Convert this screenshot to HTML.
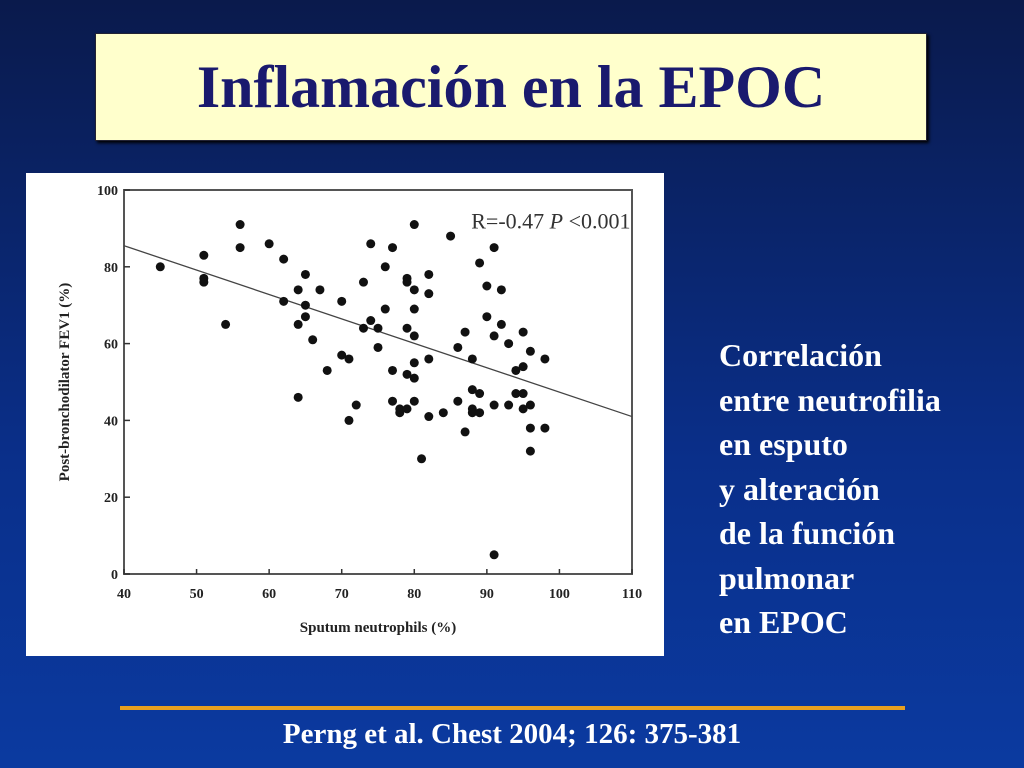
<!DOCTYPE html>
<html><head><meta charset="utf-8"><style>
body{margin:0;width:1024px;height:768px;overflow:hidden;background:linear-gradient(#0a1a4c,#0a2f8a 60%,#0b3aa0);font-family:"Liberation Serif",serif;position:relative}
#title{position:absolute;left:95px;top:33px;width:830px;height:106px;background:#ffffcc;border:1px solid #223;box-shadow:2px 2px 3px #000;display:flex;align-items:center;justify-content:center;color:#1a1a6e;font-weight:bold;font-size:60px}
#chartbox{position:absolute;left:26px;top:173px;width:638px;height:483px;background:#fff}
#side{position:absolute;left:719px;top:333px;color:#fff;font-weight:bold;font-size:32px;line-height:44.5px;white-space:nowrap}
#rule{position:absolute;left:120px;top:706px;width:785px;height:4px;background:#e8a020}
#cite{position:absolute;left:0;width:1024px;top:718px;text-align:center;color:#fff;font-weight:bold;font-size:29px}
</style></head><body>
<div id="title">Inflamación en la EPOC</div>
<div id="chartbox"><svg id="svg" width="638" height="483"></svg></div>
<div id="side">Correlación<br>entre neutrofilia<br>en esputo<br>y alteración<br>de la función<br>pulmonar<br>en EPOC</div>
<div id="rule"></div>
<div id="cite">Perng et al. Chest 2004; 126: 375-381</div>
<script>
const xTicks=[40,50,60,70,80,90,100,110];
const yTicks=[0,20,40,60,80,100];
const xs=[45,51,51,51,54,56,56,60,62,62,64,64,64,65,65,65,66,67,68,70,70,71,71,72,73,73,74,74,75,75,76,76,77,77,77,78,78,79,79,79,79,79,80,80,80,80,80,80,80,81,82,82,82,82,84,85,86,86,87,87,88,88,88,88,89,89,89,90,90,91,91,91,91,92,92,93,93,94,94,95,95,95,95,96,96,96,96,98,98];
const ys=[80,83,77,76,65,91,85,86,82,71,74,65,46,78,70,67,61,74,53,71,57,56,40,44,64,76,86,66,59,64,80,69,85,53,45,42,43,77,76,64,52,43,91,74,69,62,55,51,45,30,78,73,56,41,42,88,59,45,63,37,56,48,43,42,81,47,42,75,67,85,62,44,5,74,65,60,44,53,47,63,54,47,43,58,44,38,32,56,38];
const trend=[[40,85.5],[110,41]];
const ox=26,oy=173;
const X=v=>124-ox+(v-40)*(508/70), Y=v=>574-oy-v*3.84;
const svg=document.getElementById('svg');const NS='http://www.w3.org/2000/svg';
function mk(t,a,p){const e=document.createElementNS(NS,t);for(const k in a)e.setAttribute(k,a[k]);(p||svg).appendChild(e);return e;}
const fr=mk('rect',{x:X(40),y:Y(100),width:X(110)-X(40),height:Y(0)-Y(100),fill:'none',stroke:'#555','stroke-width':2});

xTicks.forEach(v=>{mk('line',{x1:X(v),x2:X(v),y1:Y(0),y2:Y(0)-5,stroke:'#333','stroke-width':1.5});
const t=mk('text',{x:X(v),y:Y(0)+24,'text-anchor':'middle','font-size':14,'font-weight':'bold','font-family':'Liberation Serif,serif',fill:'#222'});t.textContent=v;
});
yTicks.forEach(v=>{mk('line',{x1:X(40),x2:X(40)+6,y1:Y(v),y2:Y(v),stroke:'#333','stroke-width':1.5});
const t=mk('text',{x:X(40)-6,y:Y(v)+5,'text-anchor':'end','font-size':14,'font-weight':'bold','font-family':'Liberation Serif,serif',fill:'#222'});t.textContent=v;
});
const tl=mk('line',{x1:X(trend[0][0]),y1:Y(trend[0][1]),x2:X(trend[1][0]),y2:Y(trend[1][1]),stroke:'#444','stroke-width':1.3});

xs.forEach((v,i)=>{const c=mk('circle',{cx:X(v),cy:Y(ys[i]),r:4.5,fill:'#111'});
});
const xl=mk('text',{x:X(75),y:Y(0)+58,'text-anchor':'middle','font-size':15,'font-weight':'bold','font-family':'Liberation Serif,serif',fill:'#222'});xl.textContent='Sputum neutrophils (%)';

const yl=mk('text',{x:0,y:0,'text-anchor':'middle','font-size':15,'font-weight':'bold','font-family':'Liberation Serif,serif',fill:'#222',transform:`translate(43,${Y(50)}) rotate(-90)`});yl.textContent='Post-bronchodilator FEV1 (%)';

const st=mk('text',{x:X(109.8),y:Y(90),'text-anchor':'end','font-size':22,'font-family':'Liberation Serif,serif',fill:'#333'});st.innerHTML='R=-0.47 <tspan font-style="italic">P</tspan> &lt;0.001';

</script>
</body></html>
